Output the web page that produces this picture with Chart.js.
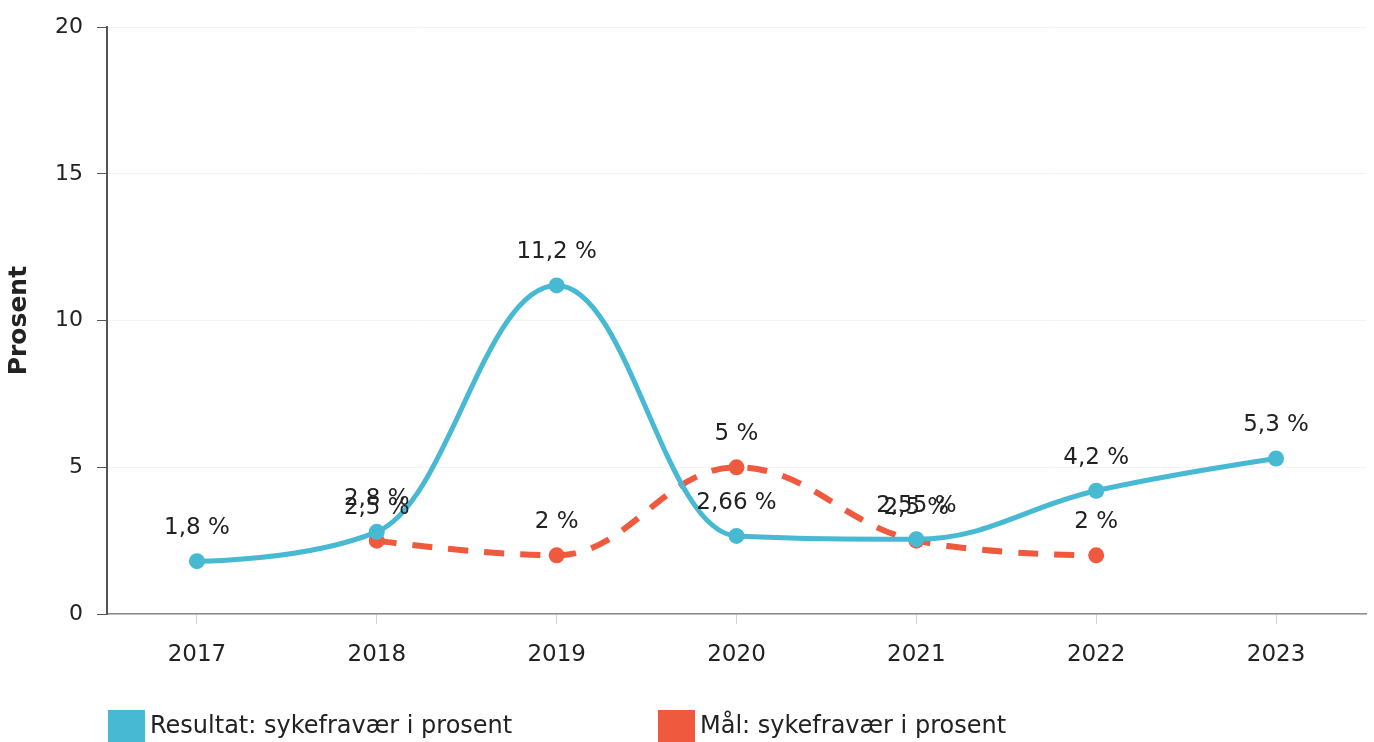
<!DOCTYPE html>
<html>
<head>
<meta charset="utf-8">
<script src="https://cdn.jsdelivr.net/npm/chart.js@4"></script>
<style>
html,body{margin:0;padding:0;background:#fff;}
#wrap{width:1374px;height:742px;position:relative;}
</style>
</head>
<body>
<div id="wrap"><canvas id="c"></canvas></div>
<script>
const years = ['2017', '2018', '2019', '2020', '2021', '2022', '2023'];
const resultat = [1.8, 2.8, 11.2, 2.66, 2.55, 4.2, 5.3];
const maal = [null, 2.5, 2, 5, 2.5, 2, null];
const yTicks = [0, 5, 10, 15, 20];
const seriesNames = ['Resultat: sykefravær i prosent', 'Mål: sykefravær i prosent'];
const axisTitle = 'Prosent';

const BLUE = '#47b9d3';
const RED = '#ef5a3e';
const FONT = '"DejaVu Sans", Verdana, sans-serif';

function fmt(v) { return String(v).replace('.', ',') + ' %'; }

// Spline control points in the style of the original chart (smoothing 1.5, no false extremes)
const splinePlugin = {
  id: 'splineCP',
  beforeDatasetDraw(chart, args) {
    const meta = args.meta;
    const line = meta.dataset;
    if (!line) return;
    line.updateControlPoints(chart.chartArea, meta.indexAxis);
    const pts = meta.data;
    const sm = 1.5, den = 2.5;
    for (let i = 0; i < pts.length; i++) {
      const p = pts[i];
      if (p.skip) continue;
      const prev = pts[i - 1], next = pts[i + 1];
      let lcx = p.x, lcy = p.y, rcx = p.x, rcy = p.y;
      if (prev && next && !prev.skip && !next.skip) {
        lcx = (sm * p.x + prev.x) / den;
        lcy = (sm * p.y + prev.y) / den;
        rcx = (sm * p.x + next.x) / den;
        rcy = (sm * p.y + next.y) / den;
        if (rcx !== lcx) {
          const corr = ((rcy - lcy) * (rcx - p.x)) / (rcx - lcx) + p.y - rcy;
          lcy += corr; rcy += corr;
        }
        if (lcy > prev.y && lcy > p.y) { lcy = Math.max(prev.y, p.y); rcy = 2 * p.y - lcy; }
        else if (lcy < prev.y && lcy < p.y) { lcy = Math.min(prev.y, p.y); rcy = 2 * p.y - lcy; }
        if (rcy > next.y && rcy > p.y) { rcy = Math.max(next.y, p.y); lcy = 2 * p.y - rcy; }
        else if (rcy < next.y && rcy < p.y) { rcy = Math.min(next.y, p.y); lcy = 2 * p.y - rcy; }
      }
      p.cp1x = lcx; p.cp1y = lcy; p.cp2x = rcx; p.cp2y = rcy;
    }
  }
};

const labelPlugin = {
  id: 'pointLabels',
  afterDatasetsDraw(chart) {
    const ctx = chart.ctx;
    ctx.save();
    ctx.font = '23px ' + FONT;
    ctx.fillStyle = '#222';
    ctx.textAlign = 'center';
    ctx.textBaseline = 'middle';
    chart.data.datasets.forEach((ds, i) => {
      const meta = chart.getDatasetMeta(i);
      meta.data.forEach((pt, j) => {
        const v = ds.data[j];
        if (v === null || v === undefined) return;
        ctx.fillText(fmt(v), pt.x, pt.y - 33);
      });
    });
    ctx.restore();
  }
};

const legendPlugin = {
  id: 'customLegend',
  afterDraw(chart) {
    const ctx = chart.ctx;
    ctx.save();
    ctx.font = '24px ' + FONT;
    ctx.textBaseline = 'middle';
    ctx.textAlign = 'left';
    const xs = [108, 658];
    chart.data.datasets.forEach((ds, i) => {
      ctx.fillStyle = ds.borderColor;
      ctx.fillRect(xs[i], 710, 37, 37);
      ctx.fillStyle = '#222';
      ctx.fillText(ds.label, xs[i] + 42, 727);
    });
    ctx.restore();
  }
};

new Chart(document.getElementById('c'), {
  type: 'line',
  data: {
    labels: years,
    datasets: [
      {
        label: seriesNames[0],
        data: resultat,
        borderColor: BLUE,
        backgroundColor: BLUE,
        borderWidth: 5,
        tension: 0.4,
        capBezierPoints: false,
        pointRadius: 8,
        pointHoverRadius: 8,
        pointBorderWidth: 0,
        pointBackgroundColor: BLUE,
        fill: false
      },
      {
        label: seriesNames[1],
        data: maal,
        borderColor: RED,
        backgroundColor: RED,
        borderWidth: 6,
        borderDash: [20, 16],
        tension: 0.4,
        capBezierPoints: false,
        pointRadius: 8,
        pointHoverRadius: 8,
        pointBorderWidth: 0,
        pointBackgroundColor: RED,
        fill: false,
        spanGaps: false
      }
    ]
  },
  plugins: [splinePlugin, labelPlugin, legendPlugin],
  options: {
    responsive: true,
    maintainAspectRatio: false,
    animation: false,
    layout: { padding: { top: 16, right: 4, bottom: 62, left: 0 } },
    plugins: {
      legend: { display: false },
      tooltip: { enabled: false }
    },
    scales: {
      x: {
        offset: true,
        afterFit: (s) => { s.height = 66; },
        grid: {
          offset: false,
          drawOnChartArea: false,
          drawTicks: true,
          tickLength: 10,
          tickColor: '#d0d0d0',
          lineWidth: 1
        },
        border: { display: true, color: '#8a8a8a', width: 1.5 },
        ticks: {
          font: { family: FONT, size: 23 },
          color: '#222',
          padding: 17,
          maxRotation: 0
        }
      },
      y: {
        min: 0,
        max: 20,
        afterFit: (s) => { s.width = 107; },
        afterBuildTicks: (s) => { s.ticks = yTicks.map(v => ({ value: v })); },
        grid: {
          color: '#f3f3f3',
          lineWidth: 1,
          drawTicks: true,
          tickLength: 10,
          tickColor: '#555'
        },
        border: { display: true, color: '#555', width: 2 },
        ticks: {
          font: { family: FONT, size: 22 },
          color: '#222',
          padding: 14
        },
        title: {
          display: true,
          text: axisTitle,
          font: { family: FONT, size: 25, weight: 'bold' },
          color: '#222',
          padding: { top: 4, bottom: 0 }
        }
      }
    }
  }
});
</script>
</body>
</html>
